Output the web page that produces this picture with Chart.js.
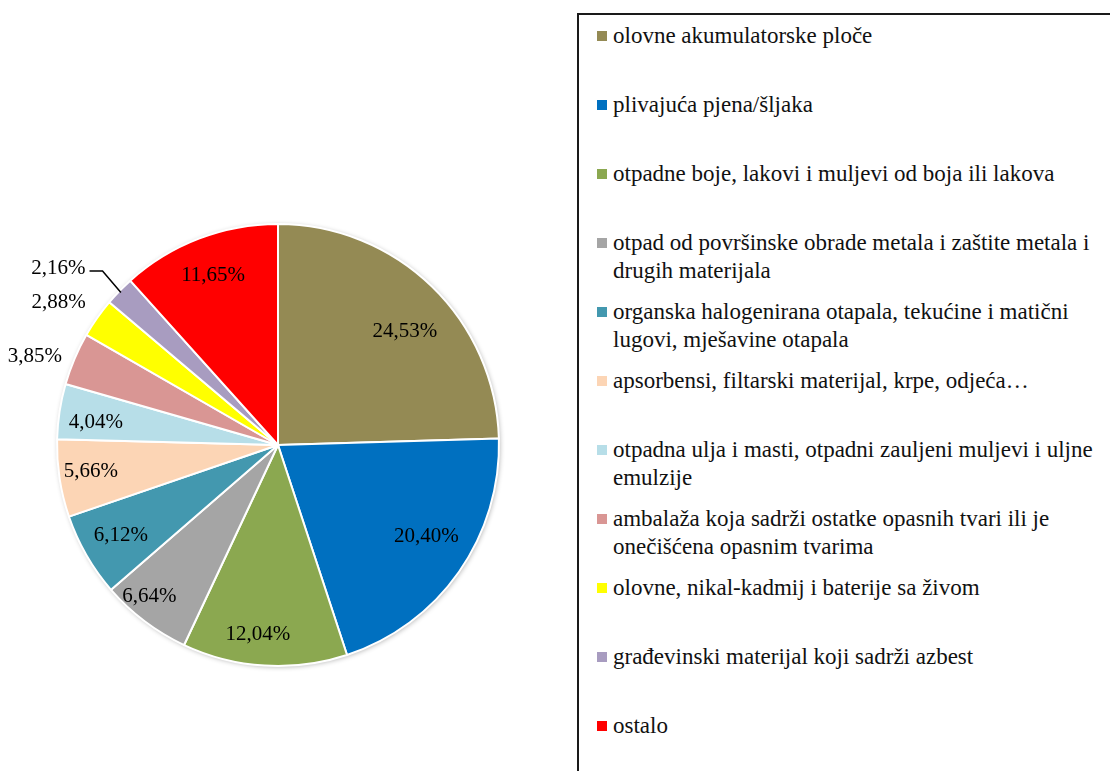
<!DOCTYPE html>
<html>
<head>
<meta charset="utf-8">
<script src="https://cdn.jsdelivr.net/npm/chart.js@4"></script>
<style>
  body { margin: 0; background: #fff; width: 1110px; height: 771px; overflow: hidden; position: relative; font-family: "Liberation Serif", serif; }
  #pieWrap { position: absolute; left: 0; top: 0; width: 556px; height: 771px; }
  #legend { position: absolute; left: 577px; top: 13px; width: 560px; height: 800px; border: 2px solid #1a1a1a; box-sizing: border-box; padding: 7px 0 0 18px; }
  .item { height: 69px; display: flex; align-items: flex-start; }
  .box { width: 10px; height: 10px; margin-top: 9px; margin-right: 6px; flex: none; }
  .txt { font-size: 23px; line-height: 28px; color: #111; width: 500px; }
</style>
</head>
<body>
<div id="pieWrap"><canvas id="pieChart"></canvas></div>
<div id="legend"></div>
<script>
const categories = [
    "olovne akumulatorske ploče",
    "plivajuća pjena/šljaka",
    "otpadne boje, lakovi i muljevi od boja ili lakova",
    "otpad od površinske obrade metala i zaštite metala i drugih materijala",
    "organska halogenirana otapala, tekućine i matični lugovi, mješavine otapala",
    "apsorbensi, filtarski materijal, krpe, odjeća…",
    "otpadna ulja i masti, otpadni zauljeni muljevi i uljne emulzije",
    "ambalaža koja sadrži ostatke opasnih tvari ili je onečišćena opasnim tvarima",
    "olovne, nikal-kadmij i baterije sa živom",
    "građevinski materijal koji sadrži azbest",
    "ostalo"
];
const shares = [24.53, 20.40, 12.04, 6.64, 6.12, 5.66, 4.04, 3.85, 2.88, 2.16, 11.65];
const colors = ["#948A54", "#0070C0", "#8BA850", "#A5A5A5", "#4398AF", "#FCD5B5", "#B7DEE8", "#D99694", "#FFFF00", "#A89CC0", "#FF0000"];

// label placement: distance from centre (fraction of radius) and angle shift from slice middle (deg)
const labelDist = [0.77, 0.79, 0.86, 0.9, 0.82, 0.855, 0.83, 1.17, 1.185, 1.276, 0.82];
const labelShift = [4, -3.3, 2.6, 3.2, 0, 0.8, -1.8, -3, -2, -5.3, 0];
const leader = [false, false, false, false, false, false, false, false, false, true, false];

const fmt = v => v.toFixed(2).replace(".", ",") + "%";

// soft shadow under the pie, like the office export
const shadowPlugin = {
    id: "pieShadow",
    beforeDatasetsDraw(chart) {
        const arc = chart.getDatasetMeta(0).data[0];
        if (!arc) return;
        const p = arc.getProps(["x", "y", "outerRadius"], true);
        const ctx = chart.ctx;
        ctx.save();
        ctx.shadowColor = "rgba(0,0,0,0.3)";
        ctx.shadowBlur = 5;
        ctx.shadowOffsetX = 1;
        ctx.shadowOffsetY = 1;
        ctx.fillStyle = "#fff";
        ctx.beginPath();
        ctx.arc(p.x, p.y, p.outerRadius, 0, Math.PI * 2);
        ctx.fill();
        ctx.restore();
    }
};

const labelPlugin = {
    id: "sliceLabels",
    afterDatasetsDraw(chart) {
        const ctx = chart.ctx;
        const meta = chart.getDatasetMeta(0);
        ctx.save();
        ctx.font = "21px 'Liberation Serif', serif";
        ctx.fillStyle = "#000";
        ctx.textAlign = "center";
        ctx.textBaseline = "middle";
        meta.data.forEach((arc, i) => {
            const p = arc.getProps(["x", "y", "startAngle", "endAngle", "outerRadius"], true);
            const mid = (p.startAngle + p.endAngle) / 2;
            const a = mid + labelShift[i] * Math.PI / 180;
            const r = p.outerRadius * labelDist[i];
            const lx = p.x + Math.cos(a) * r;
            const ly = p.y + Math.sin(a) * r;
            const text = fmt(shares[i]);
            ctx.fillText(text, lx, ly);
            if (leader[i]) {
                const w = ctx.measureText(text).width;
                const ex = p.x + Math.cos(mid) * (p.outerRadius - 2);
                const ey = p.y + Math.sin(mid) * (p.outerRadius - 2);
                ctx.beginPath();
                ctx.strokeStyle = "#000";
                ctx.lineWidth = 1.5;
                ctx.moveTo(lx + w / 2 + 4, ly + 3);
                ctx.lineTo(lx + w / 2 + 17, ly + 3);
                ctx.lineTo(ex, ey);
                ctx.stroke();
            }
        });
        ctx.restore();
    }
};

const chart = new Chart(document.getElementById("pieChart"), {
    type: "pie",
    data: {
        labels: categories,
        datasets: [{
            data: shares,
            backgroundColor: colors,
            borderColor: "#fff",
            borderWidth: 2,
            hoverOffset: 0
        }]
    },
    options: {
        responsive: true,
        maintainAspectRatio: false,
        animation: false,
        layout: { padding: { top: 223, bottom: 104, left: 56, right: 56 } },
        plugins: { legend: { display: false }, tooltip: { enabled: false } }
    },
    plugins: [shadowPlugin, labelPlugin]
});

// html legend built from the chart data
const legend = document.getElementById("legend");
chart.data.labels.forEach((label, i) => {
    const item = document.createElement("div");
    item.className = "item";
    const box = document.createElement("span");
    box.className = "box";
    box.style.background = colors[i];
    const txt = document.createElement("span");
    txt.className = "txt";
    txt.textContent = label;
    item.appendChild(box);
    item.appendChild(txt);
    legend.appendChild(item);
});
</script>
</body>
</html>
